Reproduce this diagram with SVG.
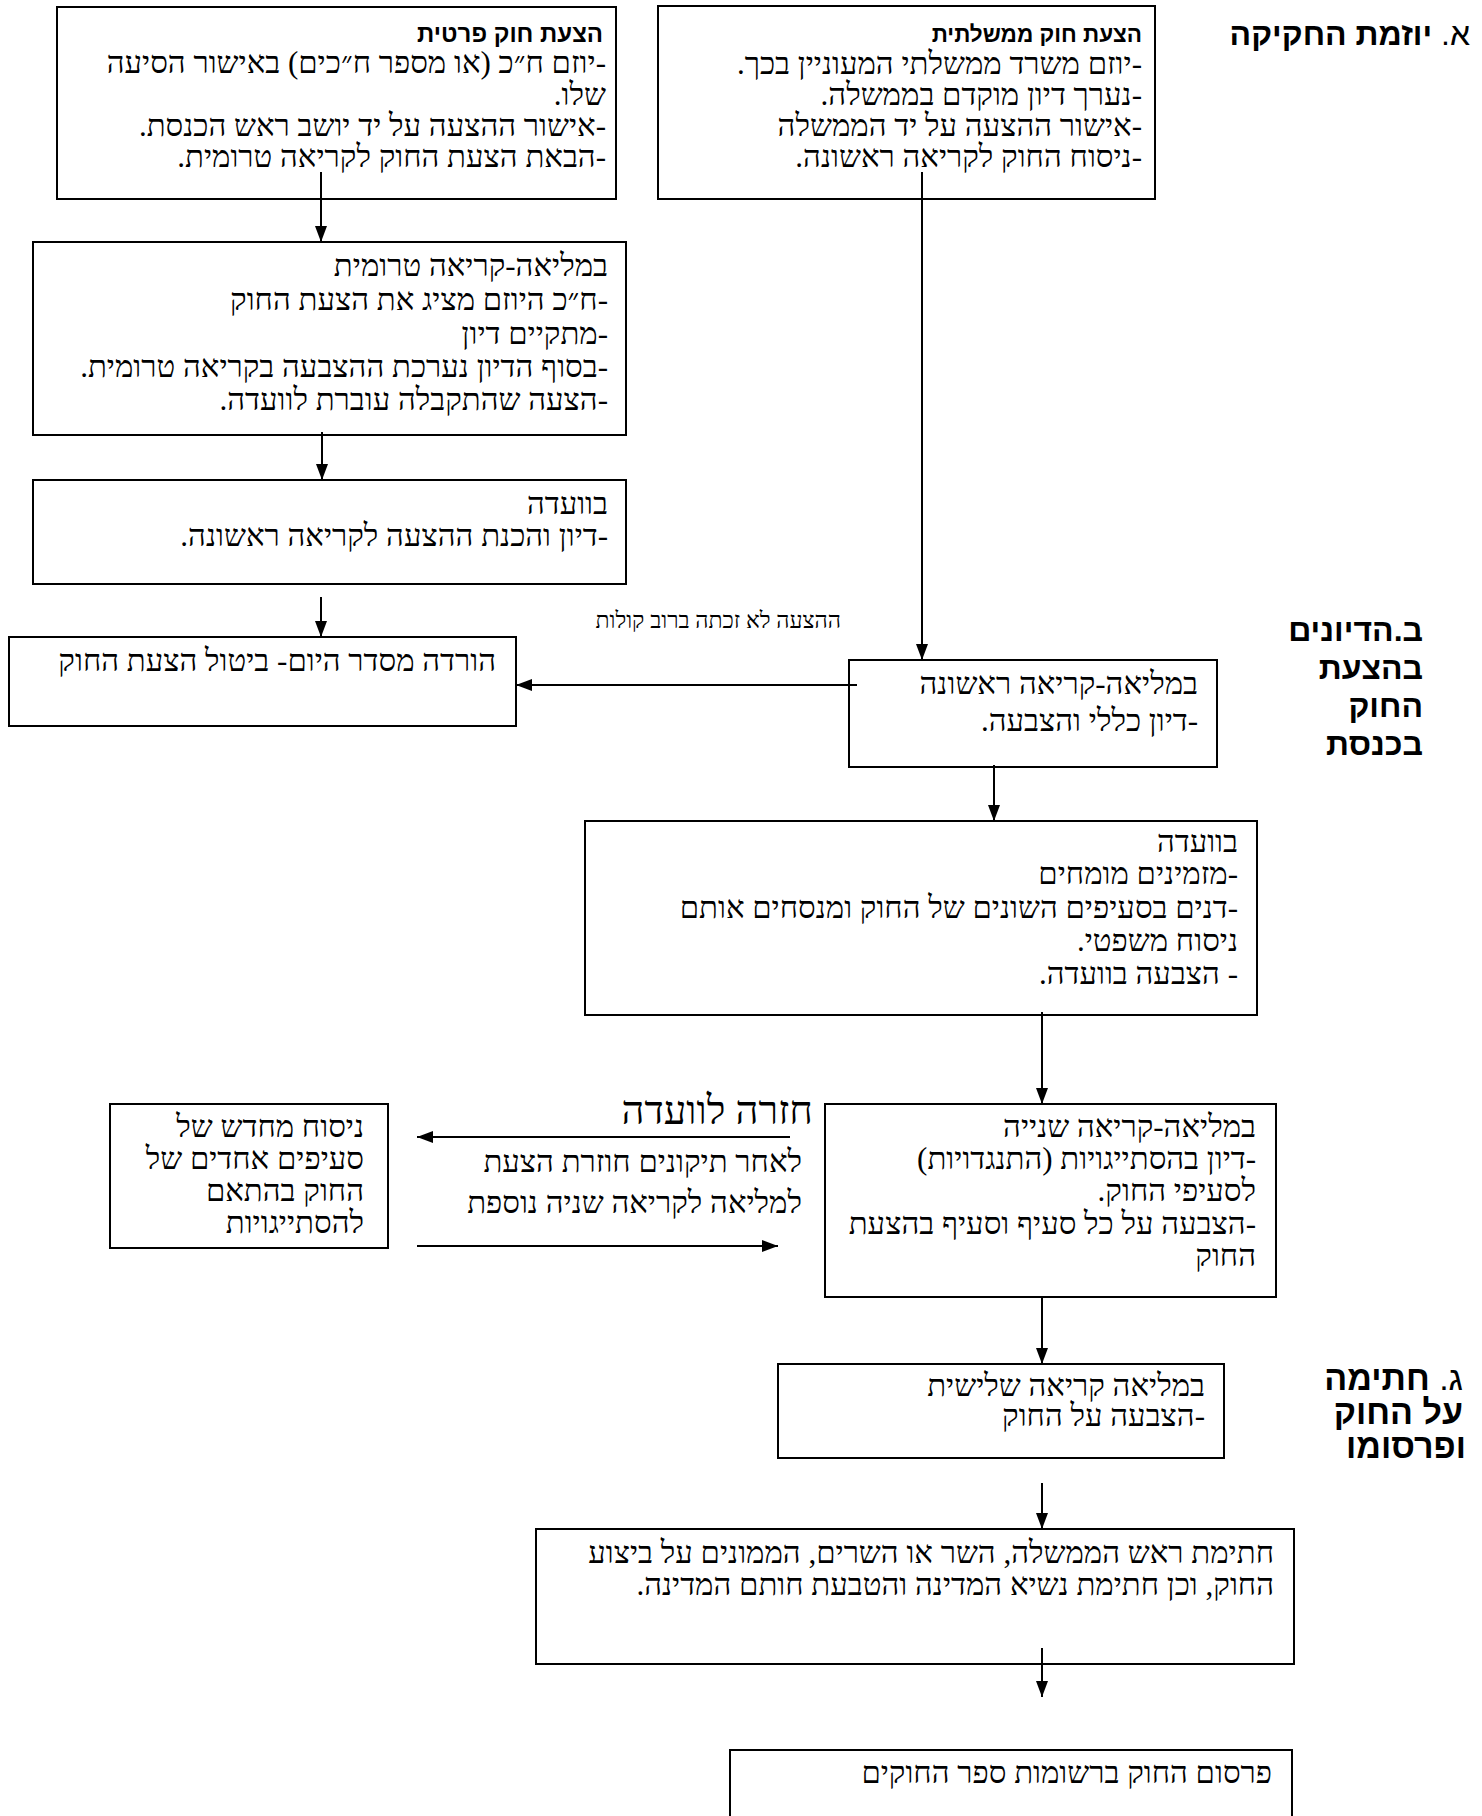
<svg xmlns="http://www.w3.org/2000/svg" width="1482" height="1816" viewBox="0 0 1482 1816">
<style>
  .box { fill: #fff; stroke: #000; stroke-width: 2; }
  .t { font-family: "Liberation Serif", "DejaVu Serif", serif; font-size: 31px; fill: #000; direction: rtl; unicode-bidi: embed; text-anchor: start; }
  .b { font-family: "Liberation Sans", "DejaVu Sans", sans-serif; font-weight: bold; font-size: 24px; }
  .h { font-family: "Liberation Sans", "DejaVu Sans", sans-serif; font-weight: bold; font-size: 32px; fill: #000; direction: rtl; unicode-bidi: embed; text-anchor: start; }
  .hc { font-size: 34px; }
  .n { font-weight: normal; }
  .s { font-size: 23px; }
  .big { font-size: 40px; }
  .c { stroke: #000; stroke-width: 2; fill: none; }
</style>
<defs>
  <marker id="ah" markerUnits="userSpaceOnUse" markerWidth="16" markerHeight="12" refX="16" refY="6" orient="auto">
    <path d="M0,0 L16,6 L0,12 z" fill="#000"/>
  </marker>
</defs>

<rect x="0" y="0" width="1482" height="1816" fill="#fff"/>

<g id="headers">
  <text class="h" x="1470" y="45"><tspan class="n">א.</tspan> יוזמת החקיקה</text>
  <text class="h" x="1423" y="641">ב.הדיונים</text>
  <text class="h" x="1423" y="679">בהצעת</text>
  <text class="h" x="1423" y="717">החוק</text>
  <text class="h" x="1423" y="755">בכנסת</text>
  <text class="h hc" x="1463" y="1390"><tspan class="n">ג.</tspan> חתימה</text>
  <text class="h hc" x="1463" y="1424">על החוק</text>
  <text class="h hc" x="1466" y="1458">ופרסומו</text>
</g>

<g id="private-bill">
  <rect class="box" x="57" y="7" width="559" height="192"/>
  <text class="t b" x="603" y="42">הצעת חוק פרטית</text>
  <text class="t" x="606" y="73">-יוזם ח״כ (או מספר ח״כים) באישור הסיעה</text>
  <text class="t" x="606" y="105">שלו.</text>
  <text class="t" x="606" y="136">-אישור ההצעה על יד יושב ראש הכנסת.</text>
  <text class="t" x="606" y="167">-הבאת הצעת החוק לקריאה טרומית.</text>
</g>

<g id="government-bill">
  <rect class="box" x="658" y="6" width="497" height="193"/>
  <text class="t b" x="1142" y="42" style="font-size:22.5px">הצעת חוק ממשלתית</text>
  <text class="t" x="1142" y="74">-יוזם משרד ממשלתי המעוניין בכך.</text>
  <text class="t" x="1142" y="105">-נערך דיון מוקדם בממשלה.</text>
  <text class="t" x="1142" y="136">-אישור ההצעה על יד הממשלה</text>
  <text class="t" x="1142" y="167">-ניסוח החוק לקריאה ראשונה.</text>
</g>

<g id="preliminary-reading">
  <rect class="box" x="33" y="242" width="593" height="193"/>
  <text class="t" x="608" y="276">במליאה-קריאה טרומית</text>
  <text class="t" x="608" y="310">-ח״כ היוזם מציג את הצעת החוק</text>
  <text class="t" x="608" y="344">-מתקיים דיון</text>
  <text class="t" x="608" y="377">-בסוף הדיון נערכת ההצבעה בקריאה טרומית.</text>
  <text class="t" x="608" y="410">-הצעה שהתקבלה עוברת לוועדה.</text>
</g>

<g id="committee-1">
  <rect class="box" x="33" y="480" width="593" height="104"/>
  <text class="t" x="608" y="514">בוועדה</text>
  <text class="t" x="608" y="546">-דיון והכנת ההצעה לקריאה ראשונה.</text>
</g>

<g id="removal">
  <rect class="box" x="9" y="637" width="507" height="89"/>
  <text class="t" x="496" y="671">הורדה מסדר היום- ביטול הצעת החוק</text>
</g>

<g id="first-reading">
  <rect class="box" x="849" y="660" width="368" height="107"/>
  <text class="t" x="1198" y="694">במליאה-קריאה ראשונה</text>
  <text class="t" x="1198" y="731">-דיון כללי והצבעה.</text>
</g>

<g id="committee-2">
  <rect class="box" x="585" y="821" width="672" height="194"/>
  <text class="t" x="1238" y="852">בוועדה</text>
  <text class="t" x="1238" y="884">-מזמינים מומחים</text>
  <text class="t" x="1238" y="918">-דנים בסעיפים השונים של החוק ומנסחים אותם</text>
  <text class="t" x="1238" y="951">ניסוח משפטי.</text>
  <text class="t" x="1238" y="984">- הצבעה בוועדה.</text>
</g>

<g id="second-reading">
  <rect class="box" x="825" y="1104" width="451" height="193"/>
  <text class="t" x="1256" y="1137">במליאה-קריאה שנייה</text>
  <text class="t" x="1256" y="1169">-דיון בהסתייגויות (התנגדויות)</text>
  <text class="t" x="1256" y="1201">לסעיפי החוק.</text>
  <text class="t" x="1256" y="1234">-הצבעה על כל סעיף וסעיף בהצעת</text>
  <text class="t" x="1256" y="1266">החוק</text>
</g>

<g id="revision">
  <rect class="box" x="110" y="1104" width="278" height="144"/>
  <text class="t" x="364" y="1137">ניסוח מחדש של</text>
  <text class="t" x="364" y="1169">סעיפים אחדים של</text>
  <text class="t" x="364" y="1201">החוק בהתאם</text>
  <text class="t" x="364" y="1233">להסתייגויות</text>
</g>

<g id="third-reading">
  <rect class="box" x="778" y="1364" width="446" height="94"/>
  <text class="t" x="1205" y="1396">במליאה קריאה שלישית</text>
  <text class="t" x="1205" y="1426">-הצבעה על החוק</text>
</g>

<g id="signing">
  <rect class="box" x="536" y="1529" width="758" height="135"/>
  <text class="t" x="1274" y="1563">חתימת ראש הממשלה, השר או השרים, הממונים על ביצוע</text>
  <text class="t" x="1274" y="1595">החוק, וכן חתימת נשיא המדינה והטבעת חותם המדינה.</text>
</g>

<g id="publication">
  <rect class="box" x="730" y="1750" width="562" height="100"/>
  <text class="t" x="1272" y="1783">פרסום החוק ברשומות ספר החוקים</text>
</g>

<g id="connectors">
  <line class="c" x1="321" y1="172" x2="321" y2="242" marker-end="url(#ah)"/>
  <line class="c" x1="322" y1="432" x2="322" y2="480" marker-end="url(#ah)"/>
  <line class="c" x1="321" y1="597" x2="321" y2="637" marker-end="url(#ah)"/>
  <line class="c" x1="922" y1="172" x2="922" y2="660" marker-end="url(#ah)"/>
  <line class="c" x1="857" y1="685" x2="516" y2="685" marker-end="url(#ah)"/>
  <line class="c" x1="994" y1="765" x2="994" y2="821" marker-end="url(#ah)"/>
  <line class="c" x1="1042" y1="1012" x2="1042" y2="1104" marker-end="url(#ah)"/>
  <line class="c" x1="1042" y1="1297" x2="1042" y2="1364" marker-end="url(#ah)"/>
  <line class="c" x1="1042" y1="1483" x2="1042" y2="1529" marker-end="url(#ah)"/>
  <line class="c" x1="1042" y1="1648" x2="1042" y2="1697" marker-end="url(#ah)"/>
  <line class="c" x1="790" y1="1137" x2="417" y2="1137" marker-end="url(#ah)"/>
  <line class="c" x1="417" y1="1246" x2="778" y2="1246" marker-end="url(#ah)"/>
  <text class="t s" x="841" y="628">ההצעה לא זכתה ברוב קולות</text>
  <text class="t big" x="813" y="1124">חזרה לוועדה</text>
  <text class="t" x="802" y="1172">לאחר תיקונים חוזרת הצעת</text>
  <text class="t" x="802" y="1213">למליאה לקריאה שניה נוספת</text>
</g>
</svg>
